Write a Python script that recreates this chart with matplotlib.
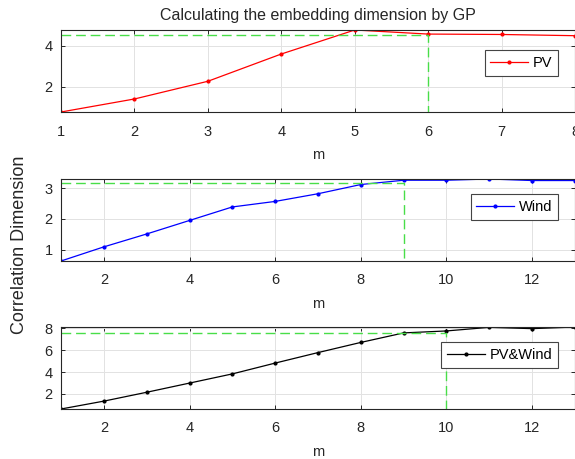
import numpy as np
import matplotlib
matplotlib.use('Agg')
import matplotlib.pyplot as plt

plt.rcParams['font.family'] = ['Liberation Sans', 'DejaVu Sans']

# valores
m_pv = [1, 2, 3, 4, 5, 6, 7, 8]
pv = [0.75, 1.39, 2.26, 3.60, 4.78, 4.58, 4.56, 4.50]

m_wind = [1, 2, 3, 4, 5, 6, 7, 8, 9, 10, 11, 12, 13]
wind = [0.63, 1.09, 1.51, 1.95, 2.39, 2.57, 2.82, 3.12, 3.26, 3.26, 3.30, 3.25, 3.25]

m_both = [1, 2, 3, 4, 5, 6, 7, 8, 9, 10, 11, 12, 13]
both = [0.62, 1.34, 2.15, 2.99, 3.83, 4.82, 5.78, 6.71, 7.58, 7.76, 8.09, 7.97, 8.12]

# dimensão de imersão escolhida e nível de saturação
emb_dim = [6, 9, 10]
sat_level = [4.52, 3.17, 7.58]

names = ['PV', 'Wind', 'PV&Wind']
colors = ['red', 'blue', 'black']
xticks = [[1, 2, 3, 4, 5, 6, 7, 8], [2, 4, 6, 8, 10, 12], [2, 4, 6, 8, 10, 12]]
yticks = [[2, 4], [1, 2, 3], [2, 4, 6, 8]]

fig = plt.figure(figsize=(5.75, 4.59), dpi=100)
W, H = 575, 459
# (topo, base) de cada eixo em pixels
boxes = [(30, 112), (179, 261), (327, 409)]
legend_top = [0.756, 0.817, 0.817]

series = [(m_pv, pv), (m_wind, wind), (m_both, both)]
for i, (m, y) in enumerate(series):
    top, bot = boxes[i]
    ax = fig.add_axes([61 / W, 1 - bot / H, 514 / W, (bot - top) / H])
    ax.plot(m, y, '.-', color=colors[i], lw=0.9, ms=4, label=names[i])
    ymin, ymax = min(y), max(y)
    ax.plot([m[0], emb_dim[i], emb_dim[i]], [sat_level[i], sat_level[i], ymin],
            color='#48de48', lw=1.0, dashes=(7, 3.5))
    ax.set_xlim(m[0], m[-1])
    ax.set_ylim(ymin, ymax)
    ax.set_xticks(xticks[i])
    ax.set_yticks(yticks[i])
    ax.grid(True, color='#e2e2e2', lw=0.7)
    ax.set_axisbelow(True)
    ax.tick_params(direction='in', top=True, right=True, length=3, width=0.7,
                   labelsize=10.5, colors='#262626')
    ax.tick_params(axis='x', pad=9)
    ax.tick_params(axis='y', pad=6)
    for s in ax.spines.values():
        s.set_color('#262626')
        s.set_linewidth(0.8)
    ax.set_xlabel('m', fontsize=10.5, color='#262626', labelpad=7)
    leg = ax.legend(loc='upper right', bbox_to_anchor=(0.967, legend_top[i]),
                    fontsize=10.5, fancybox=False, framealpha=1,
                    edgecolor='#444444', handlelength=2.6, handletextpad=0.3,
                    borderpad=0.4, borderaxespad=0)
    leg.get_frame().set_linewidth(0.8)
    if i == 0:
        ax.set_title('Calculating the embedding dimension by GP', fontsize=11.5,
                     color='#262626', pad=7)

fig.text(20 / W, 1 - 245 / H, 'Correlation Dimension', rotation=90,
         ha='center', va='center', fontsize=13, color='#262626')

plt.savefig('out.png', dpi=100)
